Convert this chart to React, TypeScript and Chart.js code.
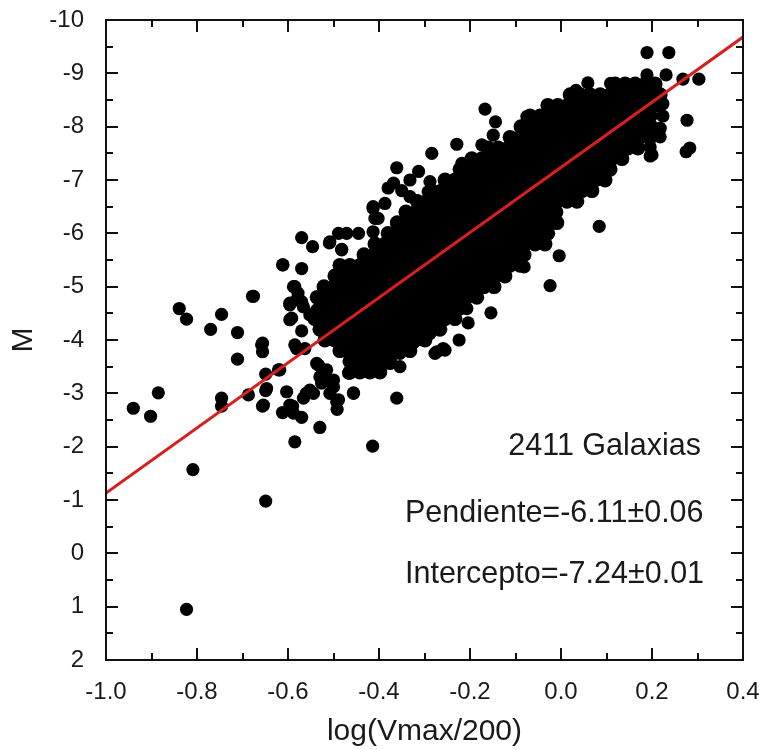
import React, { useEffect, useRef } from "react";
import { Chart, registerables } from "chart.js";

Chart.register(...registerables);

// ---- Axis values ----
const xMajorTicks = [-1.0, -0.8, -0.6, -0.4, -0.2, 0.0, 0.2, 0.4];
const xMinorTicks = [-0.9, -0.7, -0.5, -0.3, -0.1, 0.1, 0.3];
const yMajorTicks = [-10, -9, -8, -7, -6, -5, -4, -3, -2, -1, 0, 1, 2];
const yMinorTicks = [-9.5, -8.5, -7.5, -6.5, -5.5, -4.5, -3.5, -2.5, -1.5, -0.5, 0.5, 1.5];

// ---- Fit line (matches annotated slope/intercept) ----
const fitX = [-1.0, 0.4];
const fitM = [-1.13, -9.68];

// ---- Annotation text ----
const labelCount = "2411 Galaxias";
const labelSlope = "Pendiente=-6.11\u00B10.06";
const labelIntercept = "Intercepto=-7.24\u00B10.01";

// ---- Dense core of the cloud: rows of [M, x positions] ----
const coreRows: [number, number[]][] = [
  [-8.8, [0.119, 0.141, 0.163, 0.185, 0.207]],
  [-8.6, [0.020, 0.042, 0.064, 0.086, 0.108, 0.130, 0.152, 0.174, 0.196, 0.218]],
  [-8.4, [-0.029, -0.007, 0.015, 0.037, 0.059, 0.081, 0.103, 0.125, 0.147, 0.169, 0.191, 0.213]],
  [-8.2, [-0.068, -0.046, -0.024, -0.002, 0.020, 0.042, 0.064, 0.086, 0.108, 0.130, 0.152, 0.174, 0.196]],
  [-8.0, [-0.088, -0.066, -0.044, -0.022, 0.0, 0.022, 0.044, 0.066, 0.088, 0.110, 0.132, 0.154, 0.176, 0.198]],
  [-7.8, [-0.112, -0.090, -0.068, -0.046, -0.024, -0.002, 0.020, 0.042, 0.064, 0.086, 0.108, 0.130, 0.152, 0.174, 0.196]],
  [-7.6, [-0.160, -0.138, -0.116, -0.095, -0.073, -0.051, -0.029, -0.007, 0.015, 0.037, 0.059, 0.081, 0.103, 0.125, 0.147, 0.169]],
  [-7.4, [-0.196, -0.174, -0.152, -0.130, -0.108, -0.086, -0.064, -0.042, -0.020, 0.002, 0.024, 0.046, 0.068, 0.090, 0.112, 0.134]],
  [-7.2, [-0.222, -0.200, -0.178, -0.156, -0.134, -0.112, -0.090, -0.068, -0.046, -0.024, -0.002, 0.020, 0.042, 0.064, 0.086, 0.108]],
  [-7.0, [-0.255, -0.233, -0.211, -0.189, -0.167, -0.145, -0.123, -0.101, -0.079, -0.057, -0.035, -0.013, 0.009, 0.031, 0.053, 0.075, 0.097]],
  [-6.8, [-0.284, -0.262, -0.240, -0.218, -0.196, -0.174, -0.152, -0.130, -0.108, -0.086, -0.064, -0.042, -0.020, 0.002, 0.024, 0.046, 0.068]],
  [-6.6, [-0.316, -0.295, -0.273, -0.251, -0.229, -0.207, -0.185, -0.163, -0.141, -0.119, -0.097, -0.075, -0.053, -0.031, -0.009, 0.013, 0.035]],
  [-6.4, [-0.341, -0.319, -0.297, -0.275, -0.253, -0.231, -0.209, -0.187, -0.165, -0.143, -0.121, -0.099, -0.077, -0.055, -0.033, -0.011]],
  [-6.2, [-0.360, -0.338, -0.316, -0.295, -0.273, -0.251, -0.229, -0.207, -0.185, -0.163, -0.141, -0.119, -0.097, -0.075, -0.053, -0.031, -0.009]],
  [-6.0, [-0.380, -0.358, -0.336, -0.314, -0.292, -0.270, -0.248, -0.226, -0.204, -0.182, -0.160, -0.138, -0.116, -0.095, -0.073, -0.051, -0.029]],
  [-5.8, [-0.409, -0.387, -0.365, -0.343, -0.321, -0.299, -0.277, -0.255, -0.233, -0.211, -0.189, -0.167, -0.145, -0.123, -0.101, -0.079, -0.057, -0.035]],
  [-5.6, [-0.433, -0.411, -0.389, -0.367, -0.345, -0.323, -0.301, -0.279, -0.257, -0.235, -0.213, -0.191, -0.169, -0.147, -0.125, -0.103, -0.081]],
  [-5.4, [-0.486, -0.464, -0.442, -0.420, -0.398, -0.376, -0.354, -0.332, -0.310, -0.288, -0.266, -0.244, -0.222, -0.200, -0.178, -0.156, -0.134, -0.112, -0.090]],
  [-5.2, [-0.497, -0.475, -0.453, -0.431, -0.409, -0.387, -0.365, -0.343, -0.321, -0.299, -0.277, -0.255, -0.233, -0.211, -0.189, -0.167, -0.145, -0.123]],
  [-5.0, [-0.521, -0.499, -0.477, -0.455, -0.433, -0.411, -0.389, -0.367, -0.345, -0.323, -0.301, -0.279, -0.257, -0.235, -0.213, -0.191, -0.169, -0.147]],
  [-4.8, [-0.536, -0.514, -0.492, -0.470, -0.448, -0.426, -0.404, -0.382, -0.360, -0.338, -0.316, -0.295, -0.273, -0.251, -0.229, -0.207, -0.185]],
  [-4.6, [-0.530, -0.508, -0.486, -0.464, -0.442, -0.420, -0.398, -0.376, -0.354, -0.332, -0.310, -0.288, -0.266, -0.244, -0.222]],
  [-4.4, [-0.541, -0.519, -0.497, -0.475, -0.453, -0.431, -0.409, -0.387, -0.365, -0.343, -0.321, -0.299, -0.277, -0.255, -0.233]],
  [-4.2, [-0.530, -0.508, -0.486, -0.464, -0.442, -0.420, -0.398, -0.376, -0.354, -0.332, -0.310, -0.288, -0.266]],
  [-4.0, [-0.519, -0.497, -0.475, -0.453, -0.431, -0.409, -0.387, -0.365, -0.343, -0.321, -0.299]],
  [-3.8, [-0.486, -0.464, -0.442, -0.420, -0.398, -0.376, -0.354, -0.332]],
  [-3.6, [-0.464, -0.442, -0.420, -0.398, -0.376]],
  [-3.4, [-0.464, -0.442, -0.420, -0.398]],
];

// ---- Scattered galaxies around the core: [log(Vmax/200), M] ----
const leftPoints: [number, number][] = [
  [-0.940, -2.72], [-0.902, -2.57], [-0.885, -3.01], [-0.809, -1.57], [-0.823, 1.05],
  [-0.746, -2.91], [-0.746, -2.76], [-0.687, -2.97], [-0.656, -2.76], [-0.649, -3.05],
  [-0.649, -3.36], [-0.649, -0.98], [-0.618, -3.44], [-0.603, -3.03], [-0.612, -2.64],
  [-0.590, -2.76], [-0.585, -2.09], [-0.570, -2.55], [-0.560, -3.0], [-0.544, -3.0],
  [-0.530, -2.36], [-0.526, -3.19], [-0.508, -3.25], [-0.500, -3.12], [-0.489, -2.88],
  [-0.492, -2.70], [-0.456, -3.01], [-0.467, -3.38], [-0.414, -2.01], [-0.420, -3.41],
  [-0.839, -4.59], [-0.823, -4.39], [-0.770, -4.20], [-0.746, -4.48], [-0.711, -4.14],
  [-0.711, -3.64], [-0.678, -4.82], [-0.656, -3.94], [-0.656, -3.78], [-0.621, -3.44],
  [-0.612, -5.41], [-0.570, -5.34], [-0.570, -5.92], [-0.546, -5.75], [-0.585, -5.0],
  [-0.578, -4.88], [-0.596, -4.66], [-0.570, -4.72], [-0.592, -4.41], [-0.570, -4.17],
  [-0.585, -3.91], [-0.552, -4.47], [-0.563, -3.84], [-0.533, -3.53], [-0.519, -3.38],
  [-0.509, -5.82], [-0.489, -6.0], [-0.471, -6.0], [-0.445, -6.0], [-0.482, -5.70],
  [-0.413, -6.47], [-0.409, -6.28], [-0.413, -6.03],
  [-0.596, -4.69], [-0.581, -4.75], [-0.566, -4.62], [-0.596, -4.38], [-0.581, -3.84],
  [-0.658, -3.91], [-0.647, -3.09], [-0.654, -2.78], [-0.596, -2.78], [-0.588, -2.63],
  [-0.537, -3.56], [-0.530, -3.31], [-0.552, -3.06], [-0.566, -2.91], [-0.515, -3.44],
  [-0.500, -3.25], [-0.508, -3.0], [-0.493, -2.84], [-0.464, -3.38], [-0.449, -3.5],
  [-0.427, -3.63], [-0.405, -3.75], [-0.456, -3.0], [-0.361, -2.91], [-0.376, -3.63],
  [-0.354, -3.5], [-0.478, -3.88], [-0.464, -3.75], [-0.537, -4.56], [-0.530, -4.38],
];

const upperPoints: [number, number][] = [
  [-0.167, -8.33], [-0.144, -8.09], [-0.075, -8.19], [-0.229, -7.67], [-0.284, -7.50],
  [-0.174, -7.66], [-0.149, -7.84], [-0.361, -7.23], [-0.313, -7.16], [-0.368, -6.94],
  [-0.332, -7.0], [-0.288, -6.97], [-0.255, -6.87], [-0.218, -7.31], [-0.215, -7.12],
  [-0.413, -6.5], [-0.387, -6.56], [-0.332, -6.69], [-0.402, -6.28], [-0.292, -6.78],
  [-0.273, -6.69], [-0.358, -6.16], [-0.380, -6.85], [-0.350, -6.80],
  [-0.508, -5.84], [-0.482, -5.69], [-0.611, -5.41], [-0.676, -4.82], [-0.588, -5.0],
  [0.277, -8.12], [0.283, -7.60], [0.275, -7.53], [0.268, -8.89], [0.303, -8.89],
  [0.189, -9.39], [0.237, -9.39], [0.189, -8.97], [0.231, -8.97], [0.196, -7.45],
  [0.059, -8.82], [0.033, -8.68], [0.109, -8.81], [-0.073, -8.16], [0.224, -8.43],
  [0.224, -8.2], [0.218, -7.97], [0.218, -7.81], [0.196, -7.62], [0.200, -7.47],
];

const lowerPoints: [number, number][] = [
  [0.084, -6.13], [-0.004, -5.58], [-0.024, -5.02], [-0.154, -4.51], [-0.204, -4.32],
  [-0.224, -4.0], [-0.273, -3.78], [-0.255, -3.81], [-0.081, -5.37], [-0.207, -4.59],
  [-0.039, -5.84], [-0.288, -4.12], [-0.325, -3.94], [-0.354, -3.75], [-0.376, -3.56],
  [-0.277, -3.75], [-0.259, -3.84], [-0.303, -4.13], [-0.325, -4.0],
];

const FONT = "'Liberation Sans', Arial, sans-serif";

const framePlugin = {
  id: "framePlugin",
  afterDraw(chart: any) {
    const { ctx, chartArea, scales } = chart;
    const { left, right, top, bottom } = chartArea;
    const xs = scales.x;
    const ys = scales.y;
    ctx.save();
    ctx.strokeStyle = "#111";
    ctx.lineWidth = 2;
    ctx.strokeRect(left, top, right - left, bottom - top);
    const major = 12;
    const minor = 7;
    ctx.beginPath();
    const xTick = (v: number, len: number) => {
      const p = Math.round(xs.getPixelForValue(v));
      ctx.moveTo(p, bottom);
      ctx.lineTo(p, bottom - len);
      ctx.moveTo(p, top);
      ctx.lineTo(p, top + len);
    };
    const yTick = (v: number, len: number) => {
      const p = Math.round(ys.getPixelForValue(v));
      ctx.moveTo(left, p);
      ctx.lineTo(left + len, p);
      ctx.moveTo(right, p);
      ctx.lineTo(right - len, p);
    };
    xMajorTicks.forEach((v) => xTick(v, major));
    xMinorTicks.forEach((v) => xTick(v, minor));
    yMajorTicks.forEach((v) => yTick(v, major));
    yMinorTicks.forEach((v) => yTick(v, minor));
    ctx.stroke();

    ctx.fillStyle = "#1a1a1a";
    ctx.font = `30.5px ${FONT}`;
    ctx.textBaseline = "alphabetic";
    ctx.textAlign = "right";
    ctx.fillText(labelCount, left + 595, top + 435);
    ctx.textAlign = "left";
    ctx.fillText(labelSlope, left + 299, top + 502);
    ctx.fillText(labelIntercept, left + 299, top + 563);
    ctx.restore();
  },
};

const zeroScalePadding = (s: any) => {
  s.paddingTop = 0;
  s.paddingBottom = 0;
  s.paddingLeft = 0;
  s.paddingRight = 0;
};

export default function App() {
  const canvasRef = useRef<HTMLCanvasElement | null>(null);

  useEffect(() => {
    if (!canvasRef.current) return;
    const corePoints = coreRows.flatMap(([m, xs]) => xs.map((x) => ({ x, y: m })));
    const scattered = [
      ...leftPoints.map(([x, y]) => ({ x, y })),
      ...upperPoints.map(([x, y]) => ({ x, y })),
      ...lowerPoints.map(([x, y]) => ({ x, y })),
    ];
    const fit = fitX.map((x, i) => ({ x, y: fitM[i] }));

    const chart = new Chart(canvasRef.current, {
      type: "scatter",
      data: {
        datasets: [
          {
            type: "line",
            data: fit,
            borderColor: "#d61f1f",
            borderWidth: 3,
            pointRadius: 0,
            fill: false,
            order: 0,
          } as any,
          {
            data: corePoints,
            backgroundColor: "#000",
            borderColor: "#000",
            borderWidth: 0,
            pointRadius: 7.4,
            pointHoverRadius: 7.4,
            order: 1,
          },
          {
            data: scattered,
            backgroundColor: "#000",
            borderColor: "#000",
            borderWidth: 0,
            pointRadius: 6.6,
            pointHoverRadius: 6.6,
            order: 2,
          },
        ],
      },
      options: {
        animation: false,
        responsive: false,
        maintainAspectRatio: false,
        events: [],
        layout: { autoPadding: false, padding: { left: 0, top: 20, right: 20, bottom: 0 } },
        plugins: { legend: { display: false }, tooltip: { enabled: false } },
        scales: {
          x: {
            type: "linear",
            min: -1.0,
            max: 0.4,
            grid: { display: false },
            border: { display: false },
            afterFit: (s: any) => {
              s.height = 90;
              zeroScalePadding(s);
            },
            ticks: {
              stepSize: 0.2,
              padding: 10,
              color: "#1a1a1a",
              font: { family: FONT, size: 24 },
              maxRotation: 0,
              autoSkip: false,
              callback: (v: any) => (Math.abs(Number(v)) < 1e-9 ? "0.0" : Number(v).toFixed(1)),
            },
            title: {
              display: true,
              text: "log(Vmax/200)",
              color: "#1a1a1a",
              font: { family: FONT, size: 30 },
              padding: { top: 0, bottom: 0 },
            },
          },
          y: {
            type: "linear",
            min: -10,
            max: 2,
            reverse: true,
            grid: { display: false },
            border: { display: false },
            afterFit: (s: any) => {
              s.width = 106;
              zeroScalePadding(s);
            },
            ticks: {
              stepSize: 1,
              padding: 14,
              color: "#1a1a1a",
              font: { family: FONT, size: 24 },
              autoSkip: false,
              callback: (v: any) => String(Math.round(Number(v))),
            },
            title: {
              display: true,
              text: "M",
              color: "#1a1a1a",
              font: { family: FONT, size: 30 },
              padding: { top: 6, bottom: 0 },
            },
          },
        },
      },
      plugins: [framePlugin],
    });
    return () => chart.destroy();
  }, []);

  return (
    <div style={{ position: "fixed", left: 0, top: 0, width: 763, height: 750, background: "#fff" }}>
      <canvas ref={canvasRef} width={763} height={750} style={{ width: 763, height: 750 }} />
    </div>
  );
}
